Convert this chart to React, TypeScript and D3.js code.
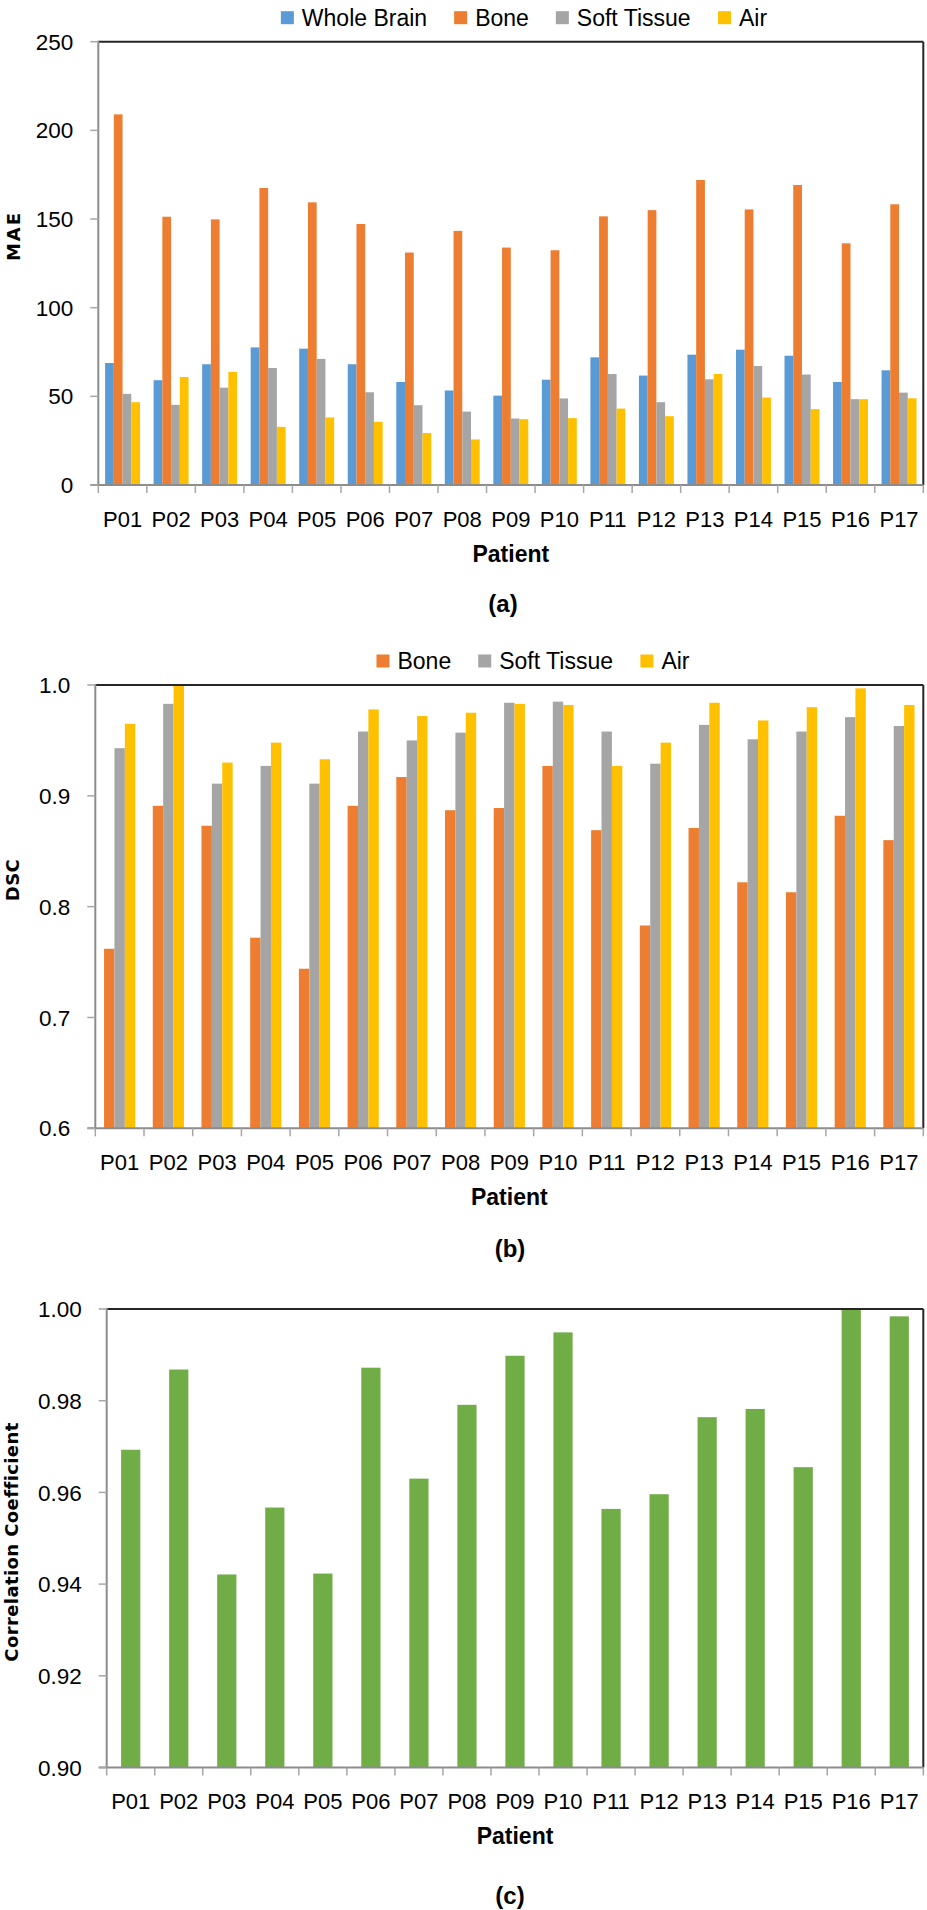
import React from 'react';
import * as d3 from 'd3';

const patients = ['P01', 'P02', 'P03', 'P04', 'P05', 'P06', 'P07', 'P08', 'P09', 'P10', 'P11', 'P12', 'P13', 'P14', 'P15', 'P16', 'P17'];

// (a) MAE
const maeWholeBrain = [68.8, 59.1, 68.1, 77.6, 76.9, 68.1, 58.1, 53.3, 50.4, 59.4, 72.0, 61.7, 73.5, 76.3, 72.9, 58.1, 64.7];
const maeBone = [209.0, 151.3, 149.8, 167.5, 159.4, 147.2, 131.1, 143.3, 133.9, 132.4, 151.5, 155.0, 172.0, 155.4, 169.2, 136.3, 158.3];
const maeSoftTissue = [51.4, 45.2, 54.9, 66.0, 71.1, 52.3, 45.0, 41.4, 37.5, 48.8, 62.6, 46.7, 59.6, 67.1, 62.3, 48.4, 52.1];
const maeAir = [46.7, 60.9, 63.8, 32.8, 38.1, 35.6, 29.3, 25.7, 37.1, 37.7, 43.1, 38.8, 62.6, 49.3, 42.8, 48.4, 48.9];
const maeTicks = [0, 50, 100, 150, 200, 250];

// (b) DSC
const dscBone = [0.762, 0.891, 0.873, 0.772, 0.744, 0.891, 0.917, 0.887, 0.889, 0.927, 0.869, 0.783, 0.871, 0.822, 0.813, 0.882, 0.860];
const dscSoftTissue = [0.943, 0.983, 0.911, 0.927, 0.911, 0.958, 0.950, 0.957, 0.984, 0.985, 0.958, 0.929, 0.964, 0.951, 0.958, 0.971, 0.963];
const dscAir = [0.965, 1.0, 0.930, 0.948, 0.933, 0.978, 0.972, 0.975, 0.983, 0.982, 0.927, 0.948, 0.984, 0.968, 0.980, 0.997, 0.982];
const dscTicks = [0.6, 0.7, 0.8, 0.9, 1.0];

// (c) Correlation coefficient
const corrValues = [0.9693, 0.9868, 0.9421, 0.9567, 0.9423, 0.9872, 0.9630, 0.9791, 0.9898, 0.9949, 0.9564, 0.9596, 0.9764, 0.9782, 0.9655, 1.0, 0.9984];
const corrTicks = [0.90, 0.92, 0.94, 0.96, 0.98, 1.00];

const COLORS = {
  wholeBrain: '#5B9BD5',
  bone: '#ED7D31',
  soft: '#A5A5A5',
  air: '#FFC000',
  green: '#70AD47',
};

const FONT = '"Liberation Sans", Arial, sans-serif';
const TITLE_FONT = '"DejaVu Sans", Verdana, sans-serif';

type Series = { name: string; color: string; values: number[] };

function measure(text: string, font: string): number {
  if (typeof document === 'undefined') return text.length * 12;
  const c = (measure as any)._c || ((measure as any)._c = document.createElement('canvas'));
  const ctx = c.getContext('2d');
  ctx.font = font;
  return ctx.measureText(text).width;
}

type ChartProps = {
  left: number;
  right: number;
  top: number;
  bottom: number;
  domain: [number, number];
  ticks: number[];
  fmt: string;
  series: Series[];
  padding: number;
  legend: boolean;
  legendCenter: number;
  yTitle: string;
  yTitleX: number;
  yTitleY: number;
  yTitleSpacing: number;
  caption: string;
  captionX: number;
  captionY: number;
};

function Chart(p: ChartProps) {
  const x0 = d3.scaleBand<string>().domain(patients).range([p.left, p.right]).paddingInner(p.padding).paddingOuter(p.padding / 2);
  const step = (p.right - p.left) / patients.length;
  const x1 = d3.scaleBand<string>().domain(p.series.map((s) => s.name)).range([0, x0.bandwidth()]);
  const y = d3.scaleLinear().domain(p.domain).range([p.bottom, p.top]);
  const f = d3.format(p.fmt);

  const legendFont = `23px ${FONT}`;
  const sq = 13;
  const gapText = 8;
  const gapItem = 27;
  let legendItems: { s: Series; x: number }[] = [];
  if (p.legend) {
    const widths = p.series.map((s) => measure(s.name, legendFont));
    const total = widths.reduce((a, w) => a + sq + gapText + w, 0) + gapItem * (p.series.length - 1);
    let cx = p.legendCenter - total / 2;
    legendItems = p.series.map((s, i) => {
      const it = { s, x: cx };
      cx += sq + gapText + widths[i] + gapItem;
      return it;
    });
  }
  const legendY = p.top - 24;

  return (
    <g>
      {p.legend &&
        legendItems.map((it) => (
          <g key={it.s.name}>
            <rect x={it.x} y={legendY - sq / 2} width={sq} height={sq} fill={it.s.color} />
            <text x={it.x + sq + gapText} y={legendY} dy="0.35em" fontFamily={FONT} fontSize={23} fill="#000">
              {it.s.name}
            </text>
          </g>
        ))}

      {/* bars */}
      {p.series.map((s) => (
        <g key={s.name} fill={s.color}>
          {patients.map((pt, i) => (
            <rect
              key={pt}
              x={(x0(pt) as number) + (x1(s.name) as number)}
              y={y(s.values[i])}
              width={x1.bandwidth()}
              height={p.bottom - y(s.values[i])}
            />
          ))}
        </g>
      ))}

      {/* frame */}
      <line x1={p.left} x2={p.right} y1={p.top} y2={p.top} stroke="#262626" strokeWidth={2} />
      <line x1={p.right} x2={p.right} y1={p.top} y2={p.bottom} stroke="#262626" strokeWidth={2} />
      <line x1={p.left} x2={p.left} y1={p.top - 1} y2={p.bottom} stroke="#8C8C8C" strokeWidth={2} />
      <line x1={p.left - 8} x2={p.right} y1={p.bottom} y2={p.bottom} stroke="#8C8C8C" strokeWidth={2} />

      {/* y ticks */}
      {p.ticks.map((t) => (
        <g key={t}>
          <line x1={p.left - 8} x2={p.left} y1={y(t)} y2={y(t)} stroke="#A6A6A6" strokeWidth={1.5} />
          <text x={p.left - 25} y={y(t)} dy="0.36em" textAnchor="end" fontFamily={FONT} fontSize={22.5} fill="#000">
            {f(t)}
          </text>
        </g>
      ))}

      {/* x ticks */}
      {d3.range(patients.length + 1).map((i) => (
        <line key={i} x1={p.left + i * step} x2={p.left + i * step} y1={p.bottom} y2={p.bottom + 8} stroke="#A6A6A6" strokeWidth={1.5} />
      ))}
      {patients.map((pt) => (
        <text
          key={pt}
          x={(x0(pt) as number) + x0.bandwidth() / 2}
          y={p.bottom + 41.5}
          textAnchor="middle"
          fontFamily={FONT}
          fontSize={22}
          fill="#000"
        >
          {pt}
        </text>
      ))}

      <text x={(p.left + p.right) / 2} y={p.bottom + 76.5} textAnchor="middle" fontFamily={FONT} fontWeight="bold" fontSize={23} fill="#000">
        Patient
      </text>

      <text
        transform={`translate(${p.yTitleX},${p.yTitleY}) rotate(-90)`}
        textAnchor="middle"
        dy="0.35em"
        fontFamily={TITLE_FONT}
        fontWeight="bold"
        fontSize={18}
        letterSpacing={p.yTitleSpacing}
        fill="#000"
      >
        {p.yTitle}
      </text>

      <text x={p.captionX} y={p.captionY} textAnchor="middle" fontFamily={FONT} fontWeight="bold" fontSize={24} fill="#000">
        {p.caption}
      </text>
    </g>
  );
}

export default function App() {
  const maeSeries: Series[] = [
    { name: 'Whole Brain', color: COLORS.wholeBrain, values: maeWholeBrain },
    { name: 'Bone', color: COLORS.bone, values: maeBone },
    { name: 'Soft Tissue', color: COLORS.soft, values: maeSoftTissue },
    { name: 'Air', color: COLORS.air, values: maeAir },
  ];
  const dscSeries: Series[] = [
    { name: 'Bone', color: COLORS.bone, values: dscBone },
    { name: 'Soft Tissue', color: COLORS.soft, values: dscSoftTissue },
    { name: 'Air', color: COLORS.air, values: dscAir },
  ];
  const corrSeries: Series[] = [{ name: 'Correlation', color: COLORS.green, values: corrValues }];

  return (
    <svg width={927} height={1910} style={{ position: 'absolute', left: 0, top: 0, display: 'block', background: '#fff' }}>
      <rect x={0} y={0} width={927} height={1910} fill="#fff" />
      <Chart
        left={98.3}
        right={923.3}
        top={41.7}
        bottom={485}
        domain={[0, 250]}
        ticks={maeTicks}
        fmt="d"
        series={maeSeries}
        padding={0.28}
        legend={true}
        legendCenter={524}
        yTitle="MAE"
        yTitleX={14}
        yTitleY={236}
        yTitleSpacing={2}
        caption="(a)"
        captionX={503}
        captionY={612}
      />
      <Chart
        left={95.3}
        right={923.3}
        top={685}
        bottom={1128.3}
        domain={[0.6, 1.0]}
        ticks={dscTicks}
        fmt=".1f"
        series={dscSeries}
        padding={0.36}
        legend={true}
        legendCenter={533}
        yTitle="DSC"
        yTitleX={13}
        yTitleY={880}
        yTitleSpacing={0.5}
        caption="(b)"
        captionX={510}
        captionY={1257}
      />
      <Chart
        left={106.7}
        right={923.3}
        top={1309}
        bottom={1767.5}
        domain={[0.9, 1.0]}
        ticks={corrTicks}
        fmt=".2f"
        series={corrSeries}
        padding={0.6}
        legend={false}
        legendCenter={0}
        yTitle="Correlation Coefficient"
        yTitleX={12}
        yTitleY={1542}
        yTitleSpacing={0.4}
        caption="(c)"
        captionX={510}
        captionY={1904}
      />
    </svg>
  );
}
